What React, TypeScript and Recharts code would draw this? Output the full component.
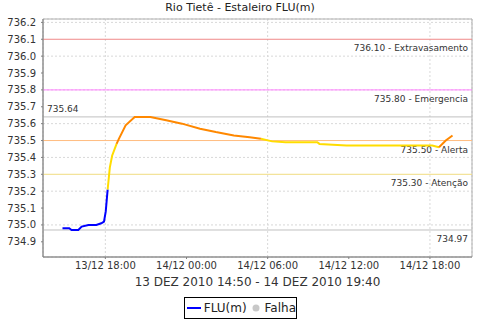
import {
  CartesianGrid,
  Line,
  LineChart,
  ReferenceArea,
  ReferenceLine,
  XAxis,
  YAxis,
} from "recharts";

// hours counted from 13/12/2010 00:00
const hours = [
  14.83, 15.33, 15.5, 16.0, 16.25, 16.75, 17.33, 17.7, 17.9, 18.03, 18.17,
  18.33, 18.5, 18.83, 19.0, 19.5, 20.17, 21.33, 22.5, 23.67, 25.0, 26.17,
  27.5, 28.67, 29.5, 30.33, 31.33, 33.67, 33.83, 35.83, 42.17, 42.67, 43.17,
  43.67,
];
const levels = [
  734.98, 734.98, 734.97, 734.97, 734.99, 735.0, 735.0, 735.01, 735.02, 735.08,
  735.21, 735.34, 735.41, 735.48, 735.51, 735.59, 735.64, 735.64, 735.62,
  735.6, 735.57, 735.55, 735.53, 735.52, 735.51, 735.495, 735.49, 735.49,
  735.48, 735.47, 735.47, 735.46, 735.5, 735.53,
];

const xTicks = [18, 24, 30, 36, 42];
const yTicks = [
  734.9, 735.0, 735.1, 735.2, 735.3, 735.4, 735.5, 735.6, 735.7, 735.8, 735.9,
  736.0, 736.1, 736.2,
];

const markerValues = [736.1, 735.8, 735.5, 735.3];
const markerNames = ["Extravasamento", "Emergencia", "Alerta", "Atenção"];
const markerColors = ["#f08888", "#ff80ff", "#ffbc80", "#f0dc80"];

const X_DOMAIN: [number, number] = [13.39, 45.11];
const Y_DOMAIN: [number, number] = [734.81, 736.22];

const FONT = "'DejaVu Sans', sans-serif";

type Row = { t: number; blue: number | null; yellow: number | null; orange: number | null };
type Level = "blue" | "yellow" | "orange";

const levelOf = (v: number): Level =>
  v >= markerValues[2] ? "orange" : v >= markerValues[3] ? "yellow" : "blue";

// each segment takes the colour of the level at its end point
const rows: Row[] = hours.map((t) => ({ t, blue: null, yellow: null, orange: null }));
for (let i = 1; i < rows.length; i++) {
  const c = levelOf(levels[i]);
  rows[i][c] = levels[i];
  rows[i - 1][c] = levels[i - 1];
}

const maxLevel = Math.max(...levels);
const minLevel = Math.min(...levels);

const fmtHour = (h: number) => {
  const day = 13 + Math.floor(h / 24);
  const hh = Math.round(h % 24);
  return `${day}/12 ${String(hh).padStart(2, "0")}:00`;
};

const rightLabel = (text: string) => (props: any) => {
  const vb = props.viewBox;
  return (
    <text
      x={vb.x + vb.width - 4}
      y={vb.y + 12}
      textAnchor="end"
      fontSize={9}
      fontFamily={FONT}
      fill="#333"
    >
      {text}
    </text>
  );
};

const leftLabel = (text: string) => (props: any) => {
  const vb = props.viewBox;
  return (
    <text x={vb.x + 4} y={vb.y - 5} fontSize={9} fontFamily={FONT} fill="#333">
      {text}
    </text>
  );
};

export default function App() {
  return (
    <div
      style={{
        position: "absolute",
        left: 0,
        top: 0,
        width: 480,
        height: 320,
        background: "#fff",
        fontFamily: FONT,
      }}
    >
      <div
        style={{
          position: "absolute",
          top: 1,
          left: 0,
          width: 480,
          textAlign: "center",
          fontSize: 11,
          color: "#222",
        }}
      >
        Rio Tietê - Estaleiro FLU(m)
      </div>

      <LineChart
        width={480}
        height={320}
        data={rows}
        margin={{ top: 19, right: 8, left: 0, bottom: 0 }}
      >
        <CartesianGrid stroke="#d8d8d8" strokeDasharray="2 2" />
        <XAxis
          dataKey="t"
          type="number"
          domain={X_DOMAIN}
          ticks={xTicks}
          allowDataOverflow
          tickFormatter={fmtHour}
          height={63}
          tickSize={2}
          tickMargin={3}
          stroke="#808080"
          tick={{ fontSize: 10, fill: "#333", fontFamily: FONT }}
          label={(props: any) => {
            const vb = props.viewBox;
            return (
              <text
                x={vb.x + vb.width / 2}
                y={vb.y + 29}
                textAnchor="middle"
                fontSize={12}
                fontFamily={FONT}
                fill="#333"
              >
                13 DEZ 2010 14:50 - 14 DEZ 2010 19:40
              </text>
            );
          }}
        />
        <YAxis
          type="number"
          domain={Y_DOMAIN}
          ticks={yTicks}
          allowDataOverflow
          tickFormatter={(v: number) => v.toFixed(1)}
          width={43}
          tickSize={2}
          tickMargin={5}
          stroke="#808080"
          tick={{ fontSize: 10, fill: "#333", fontFamily: FONT }}
        />
        <ReferenceArea
          x1={X_DOMAIN[0]}
          x2={X_DOMAIN[1]}
          y1={Y_DOMAIN[0]}
          y2={Y_DOMAIN[1]}
          fill="none"
          stroke="#b0b0b0"
          ifOverflow="visible"
        />
        {markerValues.map((v, i) => (
          <ReferenceLine
            key={markerNames[i]}
            y={v}
            stroke={markerColors[i]}
            label={rightLabel(`${v.toFixed(2)} - ${markerNames[i]}`)}
          />
        ))}
        <ReferenceLine y={maxLevel} stroke="#c0c0c0" label={leftLabel(maxLevel.toFixed(2))} />
        <ReferenceLine y={minLevel} stroke="#c0c0c0" label={rightLabel(minLevel.toFixed(2))} />
        <Line
          dataKey="blue"
          type="linear"
          stroke="#0000ff"
          strokeWidth={2}
          dot={false}
          isAnimationActive={false}
        />
        <Line
          dataKey="yellow"
          type="linear"
          stroke="#ffdd00"
          strokeWidth={2}
          dot={false}
          isAnimationActive={false}
        />
        <Line
          dataKey="orange"
          type="linear"
          stroke="#ff8800"
          strokeWidth={2}
          dot={false}
          isAnimationActive={false}
        />
      </LineChart>

      <div
        style={{
          position: "absolute",
          left: 184,
          top: 297,
          width: 113,
          height: 22,
          boxSizing: "border-box",
          border: "1px solid #000",
          display: "flex",
          alignItems: "center",
          fontSize: 12,
          color: "#222",
          paddingLeft: 2,
        }}
      >
        <svg width={15} height={10} style={{ marginRight: 2 }}>
          <line x1={0} y1={5} x2={14} y2={5} stroke="#0000ff" strokeWidth={2} />
        </svg>
        <span>FLU(m)</span>
        <svg width={12} height={10} style={{ margin: "0 3px 0 3px" }}>
          <circle cx={6} cy={5} r={3.5} fill="#c8c8c8" />
        </svg>
        <span>Falha</span>
      </div>
    </div>
  );
}
